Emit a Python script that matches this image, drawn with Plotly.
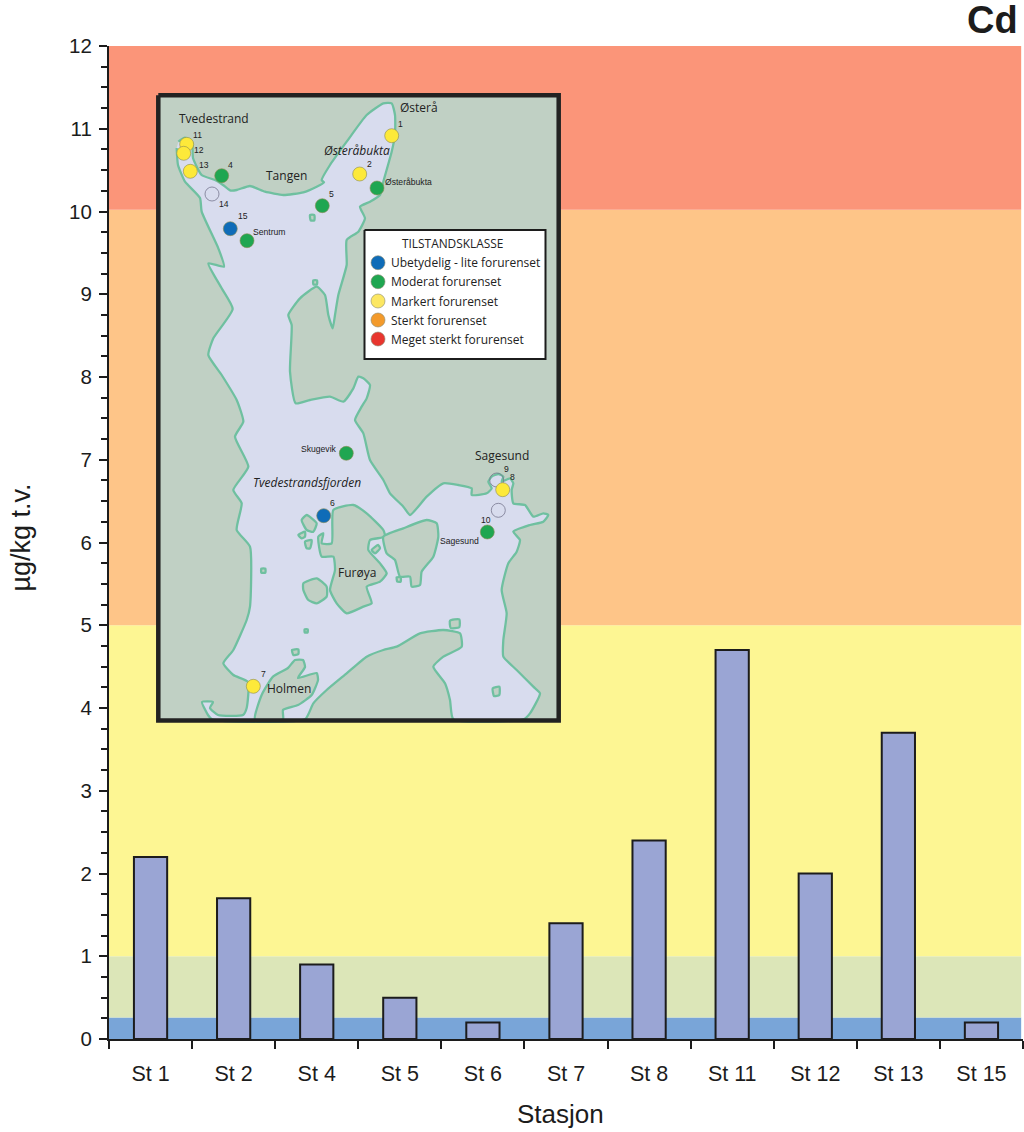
import plotly.graph_objects as go

stations = ["St 1", "St 2", "St 4", "St 5", "St 6", "St 7", "St 8", "St 11", "St 12", "St 13", "St 15"]
cd_values = [2.2, 1.7, 0.9, 0.5, 0.2, 1.4, 2.4, 4.7, 2.0, 3.7, 0.2]

band_edges = [0, 0.26, 1, 5, 10.02, 12]
band_colors = ["#79a5d8", "#dce6b8", "#fdf693", "#fec588", "#fb9579"]

LAND = "#c0d0c4"
WATER = "#d8dcee"
COAST = "#6fc0a0"
DARK = "#1c1c1c"
ARIAL = "Liberation Sans"
MAP_FONT = "Open Sans"

north_coast = [(85, 170), (105, 158), (126, 171), (129, 219), (155, 270), (195, 285), (219, 300), (240, 316), (260, 315),
               (300, 303), (345, 320), (400, 330), (460, 322), (500, 305), (522, 292), (515, 285), (540, 240),
               (590, 170), (650, 90), (700, 55), (725, 55), (735, 90), (735, 150), (725, 200), (700, 290), (690, 330),
               (660, 350), (630, 365), (645, 400), (625, 440), (590, 465), (590, 540), (565, 630), (555, 690), (548, 730),
               (535, 690), (525, 630), (500, 605), (450, 640), (415, 690), (425, 720), (420, 860), (437, 955), (480, 945),
               (540, 935), (580, 950), (610, 910), (625, 875), (640, 880), (660, 900), (650, 940), (635, 965)]
east_coast = [(615, 60), (640, 100), (660, 180), (700, 240), (720, 280), (760, 320), (780, 345), (830, 290), (880, 250),
              (925, 255), (965, 265), (965, 285), (1010, 280), (1025, 265), (1015, 245), (1025, 230), (1045, 222),
              (1060, 230), (1055, 245), (1080, 235), (1090, 250), (1085, 270), (1090, 310), (1125, 315), (1150, 350),
              (1180, 340), (1195, 345), (1180, 365), (1140, 375), (1090, 395), (1110, 420), (1100, 455), (1075, 490),
              (1055, 570), (1070, 640), (1060, 720), (1060, 770), (1100, 810), (1150, 860), (1170, 880), (1140, 940),
              (1120, 958), (910, 958), (900, 900), (885, 850), (850, 800), (880, 770), (935, 740), (930, 700), (880, 690),
              (810, 700), (740, 740), (700, 750), (650, 770), (590, 820), (530, 870), (490, 910), (465, 958)]
west_shore_south = [(186, 958), (174, 945), (156, 906), (189, 906), (180, 924), (204, 945), (279, 945), (290, 924), (294, 846),
                    (250, 825), (220, 790), (250, 750), (290, 660), (300, 620), (300, 440), (260, 390), (275, 310),
                    (250, 270), (295, 200), (255, 110), (280, 65), (260, 0)]
west_coast = [(215, 870), (175, 810), (190, 760), (248, 672), (215, 610), (175, 535), (222, 545), (205, 490), (155, 380),
              (150, 339), (105, 290), (84, 240), (80, 189)]

furoya = [(550, 330), (610, 315), (650, 340), (700, 390), (705, 410), (660, 420), (655, 450), (690, 490), (710, 520),
          (690, 545), (650, 560), (665, 610), (640, 620), (590, 640), (560, 610), (540, 570), (555, 510), (550, 470),
          (515, 470), (505, 410), (520, 400), (515, 430), (545, 430), (550, 330)]
east_island = [(700, 410), (760, 385), (830, 360), (860, 370), (865, 410), (850, 470), (815, 515), (810, 555), (785, 560),
               (780, 530), (750, 530), (735, 480), (710, 460), (700, 410)]
round_island = [(460, 550), (500, 535), (530, 560), (530, 590), (500, 610), (475, 600), (460, 570), (460, 550)]
holmen = [(315, 958), (335, 885), (369, 830), (414, 804), (435, 780), (459, 780), (465, 801), (444, 834), (500, 819),
          (504, 840), (485, 885), (444, 915), (399, 930), (399, 958), (315, 958)]
islets = [
    [(455, 360), (470, 345), (500, 370), (490, 395), (470, 390), (455, 360)],
    [(445, 405), (465, 395), (465, 410), (455, 415), (445, 405)],
    [(465, 425), (485, 420), (480, 445), (470, 445), (465, 425)],
    [(665, 450), (685, 435), (690, 445), (675, 460), (665, 450)],
    [(334, 506), (346, 506), (346, 518), (334, 518), (334, 506)],
    [(464, 688), (473, 688), (473, 697), (464, 697), (464, 688)],
    [(900, 662), (928, 658), (928, 682), (902, 684), (900, 662)],
    [(1028, 865), (1048, 860), (1048, 885), (1032, 888), (1028, 865)],
    [(426, 750), (445, 748), (445, 762), (430, 765), (426, 750)],
    [(740, 532), (752, 532), (752, 545), (742, 545), (740, 532)],
]
islets_north = [
    [(480, 390), (493, 390), (493, 406), (482, 406), (480, 390)],
    [(490, 586), (501, 586), (501, 598), (490, 598), (490, 586)],
]

site_x = [391.7, 186.7, 183.7, 190.3, 221.7, 230.3, 247, 322.3, 359.7, 377, 346.3, 323.7, 502.7, 487.3, 253.3]
site_y = [135.7, 144.3, 153.3, 171.3, 175.7, 228.7, 240.7, 205.7, 174, 188, 453.3, 515.7, 489.7, 532, 686.3]
site_colors = ["#fde93a", "#fde93a", "#fde93a", "#fde93a", "#1fa651", "#0f6cb8", "#1fa651", "#1fa651", "#fde93a",
               "#1fa651", "#1fa651", "#0f6cb8", "#fde93a", "#1fa651", "#fde93a"]
empty_x = [212, 496.7, 498.3]
empty_y = [194, 480, 510.3]

legend_labels = ["Ubetydelig - lite forurenset", "Moderat forurenset", "Markert forurenset", "Sterkt forurenset", "Meget sterkt forurenset"]
legend_colors = ["#0f6cb8", "#1fa651", "#fce762", "#f39a2b", "#e8352e"]
legend_y = [262.7, 281.7, 301, 320, 339]

place_names = [("Tvedestrand", 213.5, 118), ("Østerå", 419, 107.5), ("Tangen", 286, 175.7), ("Sagesund", 501.7, 455.3),
               ("Furøya", 357.3, 572), ("Holmen", 289, 688.7)]
italic_names = [("Østeråbukta", 356.7, 150.5), ("Tvedestrandsfjorden", 306.7, 482.7)]
small_names = [("Østeråbukta", 408.3, 181.7), ("Sentrum", 269.3, 232.3), ("Skugevik", 319.3, 448.7), ("Sagesund", 459, 540.7)]
site_numbers = [("11", 197.7, 135), ("12", 199.3, 150), ("13", 203.7, 164.7), ("4", 230, 165), ("14", 224, 204.3),
                ("15", 242.7, 216.3), ("5", 331.7, 193.7), ("2", 369, 164), ("1", 400.7, 123.7), ("6", 332.7, 503.3),
                ("9", 506, 468.7), ("8", 512.3, 477.3), ("10", 486, 519.7), ("7", 263, 674.3)]


def north(pts):
    return [150 + p[0] / 3 for p in pts], [85 + p[1] / 3 for p in pts]


def south(pts):
    return [150 + p[0] / 3 for p in pts], [400 + p[1] / 3 for p in pts]


def map_shape(xs, ys, fill, line=COAST, width=2.3, smooth=True):
    fig.add_trace(go.Scatter(
        x=xs, y=ys, xaxis="x2", yaxis="y2", mode="lines", fill="toself", fillcolor=fill,
        line=dict(color=line, width=width, shape="spline" if smooth else "linear", smoothing=0.5),
        hoverinfo="skip", showlegend=False))


def label(text, x, y, size, family=MAP_FONT, color="#222222", anchor="center"):
    fig.add_annotation(text=text, x=x, y=y, xref="x2", yref="y2", showarrow=False, xanchor=anchor, yanchor="middle",
                       font=dict(family=family, size=size, color=color))


def outer_label(text, px, py, size, anchor="center", angle=0):
    # text outside the plot area, placed by page pixel
    fig.add_annotation(text=text, x=(px - 109) / 914, y=1 - (py - 46) / 993, xref="paper", yref="paper", showarrow=False,
                       xanchor=anchor, yanchor="middle", textangle=angle, font=dict(family=ARIAL, size=size, color=DARK))


fig = go.Figure()
fig.add_trace(go.Bar(x=stations, y=cd_values, width=0.4, marker=dict(color="#9aa5d4", line=dict(color=DARK, width=2)),
                     hoverinfo="skip", showlegend=False))

for i, c in enumerate(band_colors):
    fig.add_shape(type="rect", xref="x domain", x0=0, x1=0.998, yref="y", y0=band_edges[i], y1=band_edges[i + 1],
                  fillcolor=c, line_width=0, layer="below")

# inset map, drawn on a second pair of axes that run in page pixels
map_shape([158, 559, 559, 158, 158], [95, 95, 721, 721, 95], LAND, line=LAND, width=0, smooth=False)
wx1, wy1 = north(north_coast)
wx2, wy2 = south(east_coast)
wx3, wy3 = south(west_shore_south)
wx4, wy4 = north(west_coast)
map_shape(wx1 + wx2 + wx3 + wx4, wy1 + wy2 + wy3 + wy4, WATER)
for shape in [furoya, east_island, round_island, holmen] + islets:
    xs, ys = south(shape)
    map_shape(xs, ys, LAND)
for shape in islets_north:
    xs, ys = north(shape)
    map_shape(xs, ys, LAND)

map_shape([364.5, 545.5, 545.5, 364.5, 364.5], [230, 230, 359, 359, 230], "white", line=DARK, width=2, smooth=False)
map_shape([158.3, 558.7, 558.7, 158.3, 158.3], [95.3, 95.3, 720.5, 720.5, 95.3], "rgba(0,0,0,0)", line="#222222", width=4.5, smooth=False)

fig.add_trace(go.Scatter(x=empty_x, y=empty_y, xaxis="x2", yaxis="y2", mode="markers",
                         marker=dict(size=14, color="rgba(0,0,0,0)", line=dict(color="#77778f", width=0.8)),
                         hoverinfo="skip", showlegend=False))
fig.add_trace(go.Scatter(x=site_x, y=site_y, xaxis="x2", yaxis="y2", mode="markers",
                         marker=dict(size=14, color=site_colors, line=dict(color="#8a8a50", width=0.6)),
                         hoverinfo="skip", showlegend=False))
fig.add_trace(go.Scatter(x=[378] * 5, y=legend_y, xaxis="x2", yaxis="y2", mode="markers",
                         marker=dict(size=14, color=legend_colors, line=dict(color="#8a8a70", width=0.6)),
                         hoverinfo="skip", showlegend=False))

label("TILSTANDSKLASSE", 452, 243, 11.9)
for text, y in zip(legend_labels, legend_y):
    label(text, 388.5, y, 12, anchor="left")
for text, x, y in place_names:
    label(text, x, y, 12)
for text, x, y in italic_names:
    label("<i>" + text + "</i>", x, y, 12)
for text, x, y in small_names:
    label(text, x, y, 8.6, family=ARIAL)
for text, x, y in site_numbers:
    label(text, x, y, 8.6, family=ARIAL)

outer_label("<b>Cd</b>", 1020, 20, 38, anchor="right")
outer_label("Stasjon", 560, 1114, 26)
outer_label("µg/kg t.v.", 20, 537.5, 27, angle=-90)

fig.update_layout(
    width=1024, height=1132, margin=dict(l=109, r=1, t=46, b=93),
    paper_bgcolor="white", plot_bgcolor="white", bargap=0.6,
    xaxis=dict(type="category", categoryorder="array", categoryarray=stations, range=[-0.5, 10.5], tickson="boundaries",
               ticks="outside", ticklen=8, tickwidth=2, tickcolor=DARK, showgrid=False, zeroline=False, ticklabelstandoff=14,
               showline=True, linecolor=DARK, linewidth=2, tickfont=dict(family=ARIAL, size=21.5, color=DARK)),
    yaxis=dict(range=[0, 12], tick0=0, dtick=1, ticks="outside", ticklen=8, tickwidth=2, tickcolor=DARK, showgrid=False,
               zeroline=False, showline=True, linecolor=DARK, linewidth=2, ticklabelstandoff=3,
               tickfont=dict(family=ARIAL, size=20.5, color=DARK),
               minor=dict(tick0=0, dtick=0.25, ticks="outside", ticklen=6, tickwidth=2, tickcolor=DARK, showgrid=False)),
    xaxis2=dict(range=[109, 1023], overlaying="x", visible=False, fixedrange=True),
    yaxis2=dict(range=[1039, 46], overlaying="y", visible=False, fixedrange=True),
)

fig.write_html("out.html", config=dict(displayModeBar=False),
               post_script="document.body.style.margin='0';document.body.style.overflow='hidden';")
